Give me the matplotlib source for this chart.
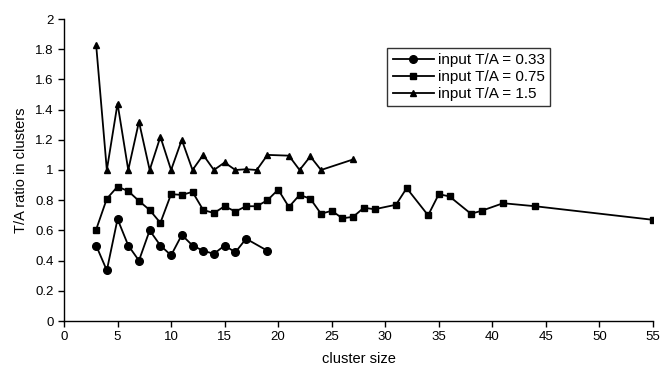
import numpy as np
import matplotlib
matplotlib.use("Agg")
import matplotlib.pyplot as plt

plt.rcParams['font.family'] = ['Liberation Sans', 'DejaVu Sans']

# input T/A = 0.33
x_033 = [3, 4, 5, 6, 7, 8, 9, 10, 11, 12, 13, 14, 15, 16, 17, 19]
y_033 = [0.50, 0.335, 0.675, 0.50, 0.40, 0.60, 0.50, 0.435, 0.57, 0.50,
         0.465, 0.445, 0.50, 0.455, 0.545, 0.465]

# input T/A = 0.75
x_075 = [3, 4, 5, 6, 7, 8, 9, 10, 11, 12, 13, 14, 15, 16, 17, 18, 19, 20,
         21, 22, 23, 24, 25, 26, 27, 28, 29, 31, 32, 34, 35, 36, 38, 39,
         41, 44, 55]
y_075 = [0.605, 0.81, 0.89, 0.86, 0.795, 0.735, 0.65, 0.84, 0.835, 0.855,
         0.735, 0.715, 0.76, 0.725, 0.76, 0.76, 0.80, 0.87, 0.755, 0.835,
         0.81, 0.71, 0.73, 0.68, 0.69, 0.75, 0.74, 0.77, 0.88, 0.70, 0.84,
         0.825, 0.71, 0.73, 0.78, 0.76, 0.67]

# input T/A = 1.5
x_15 = [3, 4, 5, 6, 7, 8, 9, 10, 11, 12, 13, 14, 15, 16, 17, 18, 19, 21,
        22, 23, 24, 27]
y_15 = [1.83, 1.0, 1.44, 1.0, 1.32, 1.0, 1.22, 1.0, 1.20, 1.0, 1.10, 1.0,
        1.05, 1.0, 1.005, 1.0, 1.10, 1.095, 1.0, 1.09, 1.0, 1.07]

xticks = np.arange(0, 56, 5)
yticks = np.round(np.arange(0, 2.01, 0.2), 1)

fig = plt.figure(figsize=(6.62, 3.67), dpi=100)
ax = fig.add_axes([64/662, 1 - 321/367, 589/662, 302/367])

ax.plot(x_033, y_033, color='black', lw=1.3, marker='o', ms=5.5,
        label='input T/A = 0.33')
ax.plot(x_075, y_075, color='black', lw=1.3, marker='s', ms=4.3,
        label='input T/A = 0.75')
ax.plot(x_15, y_15, color='black', lw=1.3, marker='^', ms=5,
        label='input T/A = 1.5')

ax.set_xlim(0, 55)
ax.set_ylim(0, 2)
ax.set_xticks(xticks)
ax.set_yticks(yticks)
ax.set_yticklabels(['0' if v == 0 else ('%g' % v) for v in yticks])
ax.tick_params(direction='out', length=4, width=1, labelsize=9.5, colors='black')
ax.spines['top'].set_visible(False)
ax.spines['right'].set_visible(False)
for s in ['left', 'bottom']:
    ax.spines[s].set_linewidth(1)

ax.set_xlabel('cluster size', fontsize=10.5, labelpad=6)
ax.set_ylabel('T/A ratio in clusters', fontsize=10.5, labelpad=5)

leg = ax.legend(loc='upper left', bbox_to_anchor=(0.549, 0.905), fontsize=11,
                frameon=True, fancybox=False, edgecolor='black',
                handlelength=2.7, borderpad=0.35, labelspacing=0.2,
                handletextpad=0.25, borderaxespad=0)
leg.get_frame().set_linewidth(1)

fig.savefig('out.png', dpi=100)
